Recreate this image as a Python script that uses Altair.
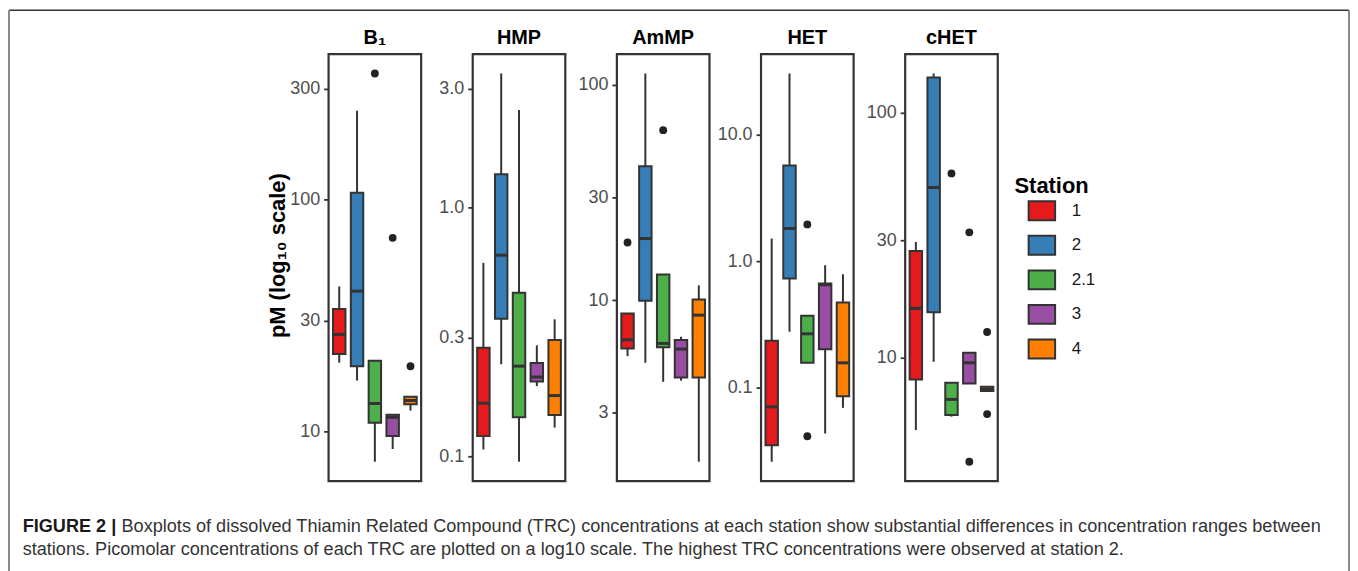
import math
import altair as alt
import pandas as pd

# ---------------- data ----------------
stations = ["1", "2", "2.1", "3", "4"]
station_colors = ["#E41A1C", "#377EB8", "#4DAF4A", "#984EA3", "#FF7F00"]

panel_titles = ["B\u2081", "HMP", "AmMP", "HET", "cHET"]

b1_lower = [19.8, 16.6, 7.4, 8.4, 12.3]
b1_q1 = [21.6, 19.1, 10.9, 9.55, 13.1]
b1_median = [26.2, 40.3, 13.2, 11.5, 13.6]
b1_q3 = [33.7, 107.0, 20.2, 11.8, 14.1]
b1_upper = [42.2, 242.0, 20.2, 11.8, 14.1]
b1_out_station = ["2.1", "3", "4"]
b1_out_value = [350.0, 68.4, 19.1]
b1_ticks = [10, 30, 100, 300]

hmp_lower = [0.107, 0.235, 0.0955, 0.192, 0.131]
hmp_q1 = [0.121, 0.358, 0.144, 0.2005, 0.147]
hmp_median = [0.164, 0.644, 0.231, 0.209, 0.176]
hmp_q3 = [0.274, 1.36, 0.455, 0.238, 0.294]
hmp_upper = [0.600, 3.45, 2.46, 0.280, 0.356]
hmp_out_station = []
hmp_out_value = []
hmp_ticks = [0.1, 0.3, 1.0, 3.0]

ammp_lower = [5.50, 5.12, 4.18, 4.23, 1.78]
ammp_q1 = [5.97, 9.93, 6.05, 4.38, 4.38]
ammp_median = [6.55, 19.3, 6.3, 5.93, 8.52]
ammp_q3 = [8.67, 41.8, 13.15, 6.53, 10.07]
ammp_upper = [8.67, 112.5, 13.15, 6.76, 11.7]
ammp_out_station = ["1", "2.1"]
ammp_out_value = [18.5, 61.4]
ammp_ticks = [3, 10, 30, 100]

het_lower = [0.0261, 0.277, 0.1575, 0.0436, 0.0695]
het_q1 = [0.0353, 0.730, 0.1575, 0.202, 0.086]
het_median = [0.0708, 1.81, 0.267, 0.65, 0.1575]
het_q3 = [0.235, 5.69, 0.370, 0.666, 0.472]
het_upper = [1.51, 30.3, 0.370, 0.929, 0.789]
het_out_station = ["2.1", "2.1"]
het_out_value = [1.95, 0.0415]
het_ticks = [0.1, 1.0, 10.0]

chet_lower = [5.05, 9.60, 5.73, 7.83, 7.29]
chet_q1 = [8.13, 15.3, 5.82, 7.83, 7.29]
chet_median = [15.85, 49.4, 6.74, 9.51, 7.42]
chet_q3 = [27.2, 139.0, 7.88, 10.45, 7.59]
chet_upper = [29.6, 144.3, 7.88, 10.45, 7.59]
chet_out_station = ["2.1", "3", "3", "4", "4"]
chet_out_value = [56.4, 32.4, 3.75, 12.7, 5.87]
chet_ticks = [10, 30, 100]

y_title = "pM (log\u2081\u2080 scale)"
legend_title = "Station"
caption_bold = ["FIGURE 2 |"]
caption_line1 = ["Boxplots of dissolved Thiamin Related Compound (TRC) concentrations at each station show substantial differences in concentration ranges between"]
caption_line2 = ["stations. Picomolar concentrations of each TRC are plotted on a log10 scale. The highest TRC concentrations were observed at station 2."]

# ---------------- layout constants ----------------
PANEL_W = 93
PANEL_H = 429
GAP = 51.8
ORIGIN_X = 330.0   # page x of first panel's plot area
ORIGIN_Y = 52.7    # page y of panels' top edge
DECO_X = ORIGIN_X + 5 * (PANEL_W + GAP)   # page x of the decoration view
DARK = "#333333"


def rel_x(px, ox=ORIGIN_X):
    return px - ox


def rel_y(py):
    return py - ORIGIN_Y


legend = alt.Legend(
    title=legend_title, orient="none",
    legendX=rel_x(1019), legendY=rel_y(175.6),
    symbolType="M-1.4,-1H1.4V1H-1.4Z", symbolSize=361,
    symbolStrokeColor=DARK, symbolStrokeWidth=2, symbolOpacity=1,
    symbolOffset=17, labelOffset=19.5, rowPadding=7.7, titlePadding=2,
    titleFontSize=22, titleFontWeight="bold", titleColor="black",
    labelFontSize=17, labelColor="#1A1A1A",
)

fill_scale = alt.Scale(domain=stations, range=station_colors)


def make_panel(title, lower, q1, med, q3, upper, out_st, out_val, ticks, fmt, first):
    vals = lower + q1 + med + q3 + upper + out_val
    llo, lhi = math.log10(min(vals)), math.log10(max(vals))
    pad = 0.05 * (lhi - llo)
    yscale = alt.Scale(type="log", domain=[10 ** (llo - pad), 10 ** (lhi + pad)], nice=False, zero=False)
    axis_kw = dict(values=ticks, format=fmt, grid=False, domain=False,
                   tickColor=DARK, tickWidth=1.8, tickSize=5, labelPadding=4,
                   labelFontSize=18, labelColor="#4D4D4D")
    if first:
        yaxis = alt.Axis(title=y_title, titleFontSize=22, titleFontWeight="bold",
                         titleColor="black", titleAngle=270, titleX=-44,
                         titleY=rel_y(254.7), titleAlign="center",
                         titleBaseline="alphabetic", **axis_kw)
    else:
        yaxis = alt.Axis(title=None, **axis_kw)

    xenc = alt.X("station:N", scale=alt.Scale(domain=stations, paddingInner=0.217, paddingOuter=0.207),
                 axis=None)
    df = pd.DataFrame({"station": stations, "lower": lower, "q1": q1,
                       "median": med, "q3": q3, "upper": upper})
    base = alt.Chart(df)
    whisk = base.mark_rule(color=DARK, strokeWidth=2).encode(
        x=xenc, y=alt.Y("lower:Q", scale=yscale, axis=yaxis), y2="upper:Q")
    box = base.mark_bar(size=12.5, stroke=DARK, strokeWidth=2, opacity=1).encode(
        x=xenc, y=alt.Y("q1:Q", scale=yscale, axis=yaxis), y2="q3:Q",
        fill=alt.Fill("station:N", scale=fill_scale, legend=legend))
    medt = base.mark_tick(size=12.5, thickness=3, color=DARK, opacity=1).encode(
        x=xenc, y=alt.Y("median:Q", scale=yscale, axis=yaxis))
    layers = [whisk, box, medt]
    if out_val:
        odf = pd.DataFrame({"station": out_st, "value": out_val})
        pts = alt.Chart(odf).mark_circle(size=62, color="#222222", opacity=1).encode(
            x=xenc, y=alt.Y("value:Q", scale=yscale, axis=yaxis))
        layers.append(pts)

    return alt.layer(*layers).properties(
        width=PANEL_W, height=PANEL_H,
        title=alt.TitleParams(text=title, fontSize=20, fontWeight="bold", color="black",
                              anchor="middle", offset=-10, baseline="alphabetic"),
    )


def make_deco():
    one = pd.DataFrame({"k": [0]})
    top_y = rel_y(8.75)
    bottom_y = rel_y(575)
    left_x = rel_x(9, DECO_X)
    right_x = rel_x(1355, DECO_X)
    layers = [
        alt.Chart(one).mark_rule(color=DARK, strokeWidth=1.5).encode(
            x=alt.value(left_x), x2=alt.value(right_x), y=alt.value(top_y)),
        alt.Chart(one).mark_rule(color="#8A8A8A", strokeWidth=2).encode(
            x=alt.value(left_x), y=alt.value(top_y), y2=alt.value(bottom_y)),
        alt.Chart(one).mark_rule(color="#8A8A8A", strokeWidth=2).encode(
            x=alt.value(right_x), y=alt.value(top_y), y2=alt.value(bottom_y)),
        alt.Chart(pd.DataFrame({"t": caption_bold})).mark_text(
            align="left", baseline="alphabetic", fontSize=18.2, fontWeight="bold", color="#1A1A1A").encode(
            x=alt.value(rel_x(22.7, DECO_X)), y=alt.value(rel_y(533)), text="t:N"),
        alt.Chart(pd.DataFrame({"t": caption_line1})).mark_text(
            align="left", baseline="alphabetic", fontSize=18.2, color="#333333").encode(
            x=alt.value(rel_x(122, DECO_X)), y=alt.value(rel_y(533)), text="t:N"),
        alt.Chart(pd.DataFrame({"t": caption_line2})).mark_text(
            align="left", baseline="alphabetic", fontSize=18.2, color="#333333").encode(
            x=alt.value(rel_x(22.7, DECO_X)), y=alt.value(rel_y(556)), text="t:N"),
    ]
    return alt.layer(*layers).properties(
        width=1, height=PANEL_H,
        view=alt.ViewBackground(strokeWidth=0, strokeOpacity=0),
    )


panels = [
    make_panel(panel_titles[0], b1_lower, b1_q1, b1_median, b1_q3, b1_upper,
               b1_out_station, b1_out_value, b1_ticks, ".0f", True),
    make_panel(panel_titles[1], hmp_lower, hmp_q1, hmp_median, hmp_q3, hmp_upper,
               hmp_out_station, hmp_out_value, hmp_ticks, ".1f", False),
    make_panel(panel_titles[2], ammp_lower, ammp_q1, ammp_median, ammp_q3, ammp_upper,
               ammp_out_station, ammp_out_value, ammp_ticks, ".0f", False),
    make_panel(panel_titles[3], het_lower, het_q1, het_median, het_q3, het_upper,
               het_out_station, het_out_value, het_ticks, ".1f", False),
    make_panel(panel_titles[4], chet_lower, chet_q1, chet_median, chet_q3, chet_upper,
               chet_out_station, chet_out_value, chet_ticks, ".0f", False),
    make_deco(),
]

chart = alt.hconcat(*panels, spacing=GAP, bounds="flush").resolve_scale(
    y="independent", x="independent"
).properties(padding=0).configure(
    font="Liberation Sans", background="white"
).configure_view(stroke=DARK, strokeWidth=2.2)

chart.save("out.html", embed_options={"renderer": "svg", "actions": False})
